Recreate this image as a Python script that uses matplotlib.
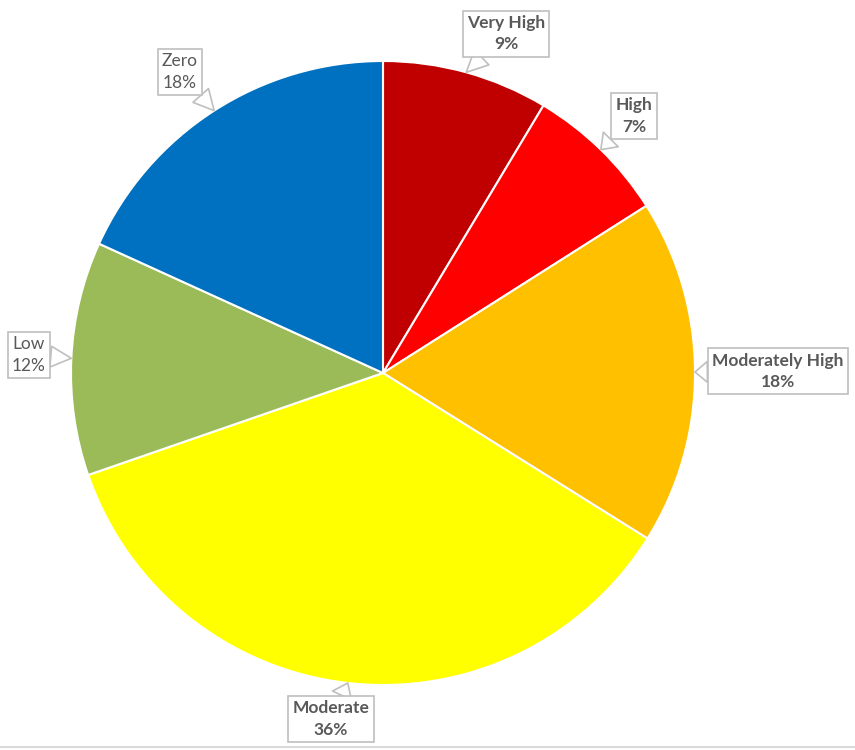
import numpy as np
import matplotlib.pyplot as plt

labels = ['Very High', 'High', 'Moderately High', 'Moderate', 'Low', 'Zero']
values = [8.6, 7.4, 17.9, 35.8, 12.1, 18.2]
colors = ['#C00000', '#FF0000', '#FFC000', '#FFFF00', '#9BBB59', '#0070C0']
bold = [True, True, True, True, False, False]

# label box centres (data units, pie radius = 1)
label_pos = [(0.394, 1.087), (0.804, 0.824), (1.266, 0.006),
             (-0.167, -1.109), (-1.135, 0.058), (-0.651, 0.965)]

fig = plt.figure(figsize=(8.55, 7.5), dpi=100)
ax = fig.add_axes([0, 0, 1, 1])

wedges, _ = ax.pie(values, colors=colors, startangle=90, counterclock=False,
                   radius=1.0, wedgeprops=dict(edgecolor='white', linewidth=1.5))

total = sum(values)
for w, lab, v, pos, b in zip(wedges, labels, values, label_pos, bold):
    mid = np.deg2rad((w.theta1 + w.theta2) / 2)
    tip = (np.cos(mid), np.sin(mid))
    txt = '%s\n%d%%' % (lab, round(v / total * 100))
    ax.annotate(txt, xy=tip, xytext=pos, ha='center', va='center',
                fontsize=12.5, family='Lato',
                fontweight='bold' if b else 'normal', color='#595959',
                linespacing=1.4,
                bbox=dict(boxstyle='square,pad=0.25', fc='white', ec='#BFBFBF', lw=1.2),
                arrowprops=dict(arrowstyle='wedge,tail_width=1.2,shrink_factor=0.5',
                                fc='white', ec='#BFBFBF', lw=1.2, shrinkA=0, shrinkB=0))

ax.set_xlim(-383 / 312, (855 - 383) / 312)
ax.set_ylim((373 - 750) / 312, 373 / 312)
ax.set_aspect('auto')
ax.axis('off')

# thin frame line at the bottom
fig.add_artist(plt.Line2D([0, 1], [0.004, 0.004], color='#D9D9D9', lw=1.5))

fig.savefig('out.png', dpi=100, facecolor='white')
